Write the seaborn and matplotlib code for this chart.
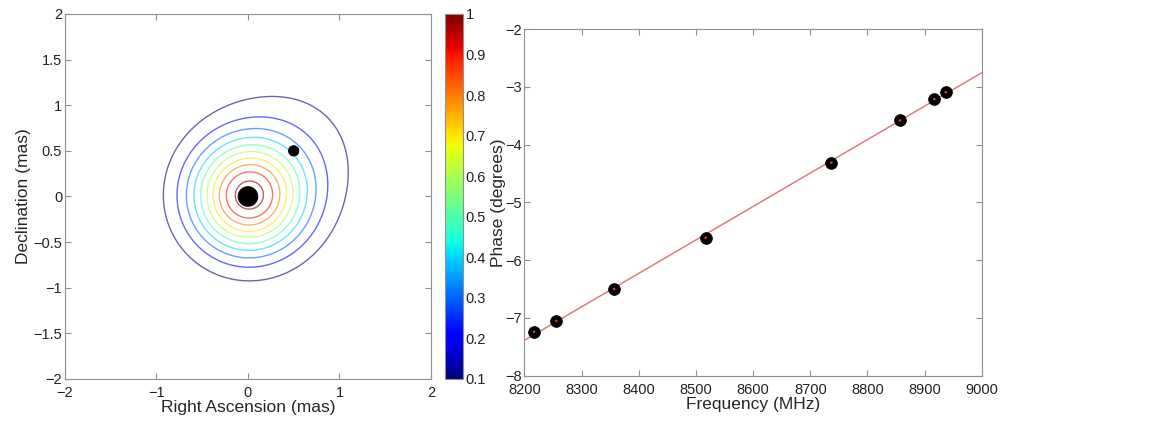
import numpy as np
import pandas as pd
import matplotlib
matplotlib.use("Agg")
import matplotlib.pyplot as plt
import matplotlib.colors as mcolors
import matplotlib.cm as cm
import seaborn as sns

# brightness model: two gaussian components (x, y, flux, width) in mas
comp_x = [0.0, 0.5]
comp_y = [0.0, 0.5]
comp_flux = [1.0, 0.12]
comp_width = [0.425, 0.62]
levels = [0.1, 0.2, 0.3, 0.4, 0.5, 0.6, 0.7, 0.8, 0.9, 1.0]

# marked positions
dot_x = [0.0, 0.5]
dot_y = [0.0, 0.5]
dot_size = [200, 55]

# phase vs frequency
freq = [8217, 8256, 8357, 8517, 8737, 8857, 8917, 8937]
phase = [-7.24, -7.05, -6.50, -5.61, -4.31, -3.58, -3.21, -3.09]

sns.set_style("ticks")
plt.rcParams["font.family"] = ["Liberation Sans", "DejaVu Sans"]
plt.rcParams["xtick.direction"] = "in"
plt.rcParams["ytick.direction"] = "in"
plt.rcParams["axes.edgecolor"] = "#909090"
plt.rcParams["xtick.color"] = "#909090"
plt.rcParams["ytick.color"] = "#909090"
plt.rcParams["xtick.labelcolor"] = "#222222"
plt.rcParams["ytick.labelcolor"] = "#222222"

fig = plt.figure(figsize=(11.56, 4.21), dpi=100)
ax1 = fig.add_axes([0.0562, 0.0998, 0.3166, 0.867])
cax = fig.add_axes([0.385, 0.0998, 0.0156, 0.867])
ax2 = fig.add_axes([0.4536, 0.1076, 0.3957, 0.823])

# ---- left: contour map
g = np.linspace(-2, 2, 401)
X, Y = np.meshgrid(g, g)
Z = np.zeros_like(X)
for cx, cy, f, w in zip(comp_x, comp_y, comp_flux, comp_width):
    Z += f * np.exp(-((X - cx) ** 2 + (Y - cy) ** 2) / (2 * w ** 2))

norm = mcolors.Normalize(vmin=0.1, vmax=1.0)
ax1.contour(X, Y, Z, levels=levels, cmap="jet", norm=norm,
            linewidths=1.0, alpha=0.6)
dots = pd.DataFrame({"x": dot_x, "y": dot_y, "s": dot_size})
sns.scatterplot(data=dots, x="x", y="y", size="s", sizes=(55, 200),
                color="black", edgecolor="black", legend=False, ax=ax1, zorder=5)
ax1.set_xlim(-2, 2)
ax1.set_ylim(-2, 2)
ax1.set_xticks([-2, -1, 0, 1, 2])
ax1.set_yticks(np.arange(-2, 2.01, 0.5))
ax1.set_yticklabels(["\u22122", "\u22121.5", "\u22121", "\u22120.5", "0",
                     "0.5", "1", "1.5", "2"])
ax1.set_xticklabels(["\u22122", "\u22121", "0", "1", "2"])
ax1.tick_params(top=True, right=True, labelsize=10.5, length=4)
ax1.tick_params(axis="x", pad=5)
ax1.tick_params(axis="y", pad=2)
ax1.set_xlabel("Right Ascension (mas)", fontsize=12.5, labelpad=0)
ax1.set_ylabel("Declination (mas)", fontsize=12.5, labelpad=2)

sm = cm.ScalarMappable(norm=norm, cmap="jet")
cb = fig.colorbar(sm, cax=cax)
cb.set_ticks(levels)
cb.set_ticklabels(["0.1", "0.2", "0.3", "0.4", "0.5", "0.6", "0.7", "0.8", "0.9", "1"])
cb.ax.tick_params(labelsize=10.5, direction="in", length=3, pad=2)
cb.outline.set_edgecolor("#909090")

# ---- right: phase vs frequency with linear fit
pts = pd.DataFrame({"freq": freq, "phase": phase})
ax2.set_xlim(8200, 9000)
ax2.set_ylim(-8, -2)
sns.regplot(data=pts, x="freq", y="phase", ci=None, truncate=False,
            scatter=False, line_kws={"color": "#e07070", "lw": 1.0}, ax=ax2)
sns.scatterplot(data=pts, x="freq", y="phase", s=70, color="black",
                edgecolor="black", ax=ax2, zorder=5)
sns.scatterplot(data=pts, x="freq", y="phase", s=3, color="#ff4040",
                edgecolor="none", ax=ax2, zorder=6)
ax2.set_xlim(8200, 9000)
ax2.set_ylim(-8, -2)
ax2.set_xticks(np.arange(8200, 9001, 100))
ax2.set_yticks(np.arange(-8, -1.9, 1))
ax2.set_yticklabels(["\u22128", "\u22127", "\u22126", "\u22125", "\u22124",
                     "\u22123", "\u22122"])
ax2.tick_params(top=True, right=True, labelsize=10.5, length=4)
ax2.tick_params(axis="x", pad=5)
ax2.tick_params(axis="y", pad=2)
ax2.set_xlabel("Frequency (MHz)", fontsize=12.5, labelpad=0)
ax2.set_ylabel("Phase (degrees)", fontsize=12.5)
ax2.yaxis.set_label_coords(-0.04, 0.5)

fig.savefig("out.png", dpi=100)
